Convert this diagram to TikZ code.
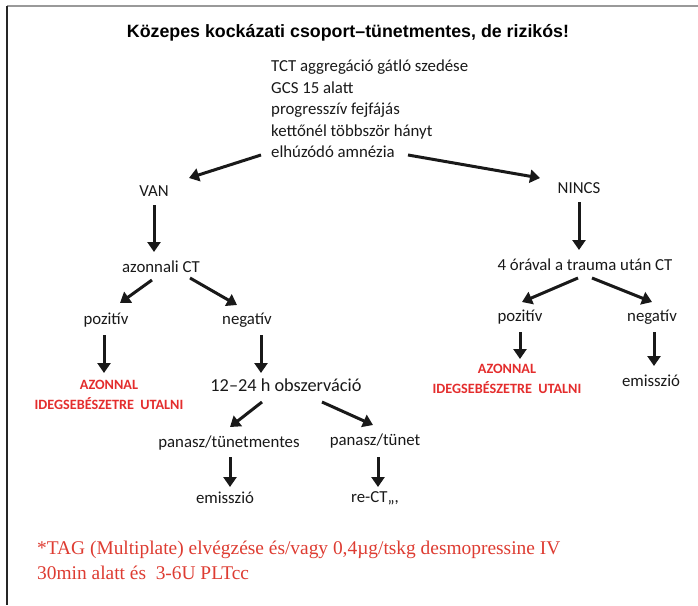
\documentclass[tikz,border=0pt]{standalone}
\usepackage{fontspec}
\setmainfont{Carlito}
\newfontfamily\titlefont{Liberation Sans}
\newfontfamily\notefont{Liberation Serif}
\usetikzlibrary{arrows.meta}
\definecolor{txt}{RGB}{25,25,25}
\definecolor{redbold}{RGB}{228,45,45}
\definecolor{rednote}{RGB}{222,60,50}
\tikzset{
  lbl/.style={inner sep=0pt, text=txt, font=\fontsize{16.8}{20}\selectfont},
  big/.style={inner sep=0pt, text=txt, font=\fontsize{18.3}{22}\selectfont},
  warn/.style={inner sep=0pt, text=redbold, align=center, font=\fontsize{14.2}{19.5}\selectfont\bfseries},
  arr/.style={line width=3pt, txt, -{Triangle[length=10pt,width=13pt]}},
}
\begin{document}
\begin{tikzpicture}[x=1pt,y=-1pt]
\useasboundingbox (0,0) rectangle (698,605);
\fill[white] (0,0) rectangle (698,605);
\draw[line width=1.5pt, gray!80] (7,6) -- (698,6);
\draw[line width=1.5pt, black!85] (7,6) -- (7,605);

\node[inner sep=0pt, font=\titlefont\fontsize{17.8}{20}\selectfont\bfseries] (title) at (348,33) {Közepes kockázati csoport–tünetmentes, de rizikós!};

\node[lbl, anchor=west, align=left, font=\fontsize{16.8}{21.5}\selectfont] (crit) at (271,109) {TCT aggregáció gátló szedése\\GCS 15 alatt\\progresszív fejfájás\\kettőnél többször hányt\\elhúzódó amnézia};

\node[lbl] (van) at (154,191) {VAN};
\node[lbl] (nincs) at (579,188) {NINCS};
\node[lbl] (act) at (161,267) {azonnali CT};
\node[lbl] (ctt) at (585,265) {4 órával a trauma után CT};
\node[lbl] (poz1) at (106,320) {pozitív};
\node[lbl] (neg1) at (247,320) {negatív};
\node[lbl] (poz2) at (520,317) {pozitív};
\node[lbl] (neg2) at (652,317) {negatív};
\node[warn] (az1) at (109,395) {AZONNAL\\IDEGSEBÉSZETRE\ \ UTALNI};
\node[warn] (az2) at (507,379) {AZONNAL\\IDEGSEBÉSZETRE\ \ UTALNI};
\node[lbl] (em2) at (651,381) {emisszió};
\node[big] (obs) at (286,385) {12–24 h obszerváció};
\node[lbl] (pt1) at (229,443) {panasz/tünetmentes};
\node[lbl] (pt2) at (375,441) {panasz/tünet};
\node[lbl] (em1) at (225,498) {emisszió};
\node[lbl] (rect) at (375,498) {re-CT,,,};

\node[inner sep=0pt, anchor=west, align=left, text=rednote, font=\notefont\fontsize{19.4}{25}\selectfont] (note) at (37,560) {*TAG (Multiplate) elvégzése és/vagy 0,4µg/tskg desmopressine IV\\30min alatt és\ \ 3-6U PLTcc};

% connectors
\draw[arr] ([shift={(-10,46)}]crit.west) -- ([shift={(35,-13)}]van.center);
\draw[arr] ([shift={(137,46)}]crit.west) -- ([shift={(-39,-10)}]nincs.center);
\draw[arr] ([shift={(0,14)}]van.center) -- ([shift={(-7,-15)}]act.center);
\draw[arr] ([shift={(-9,13)}]act.center) -- ([shift={(14,-17)}]poz1.center);
\draw[arr] ([shift={(29,11)}]act.center) -- ([shift={(-10,-15)}]neg1.center);
\draw[arr] ([shift={(0,14)}]nincs.center) -- ([shift={(-6,-15)}]ctt.center);
\draw[arr] ([shift={(-7,13)}]ctt.center) -- ([shift={(2,-15)}]poz2.center);
\draw[arr] ([shift={(7,13)}]ctt.center) -- ([shift={(0,-15)}]neg2.center);
\draw[arr] ([shift={(-2,15)}]poz1.center) -- ([shift={(-5,-22)}]az1.center);
\draw[arr] ([shift={(14,15)}]neg1.center) -- ([shift={(-25,-12)}]obs.center);
\draw[arr] ([shift={(0,15)}]poz2.center) -- ([shift={(13,-20)}]az2.center);
\draw[arr] ([shift={(2,15)}]neg2.center) -- ([shift={(3,-15)}]em2.center);
\draw[arr] ([shift={(-24,17)}]obs.center) -- ([shift={(1,-16)}]pt1.center);
\draw[arr] ([shift={(36,17)}]obs.center) -- ([shift={(-2,-16)}]pt2.center);
\draw[arr] ([shift={(1,14)}]pt1.center) -- ([shift={(5,-11)}]em1.center);
\draw[arr] ([shift={(3,16)}]pt2.center) -- ([shift={(3,-11)}]rect.center);
\end{tikzpicture}
\end{document}
